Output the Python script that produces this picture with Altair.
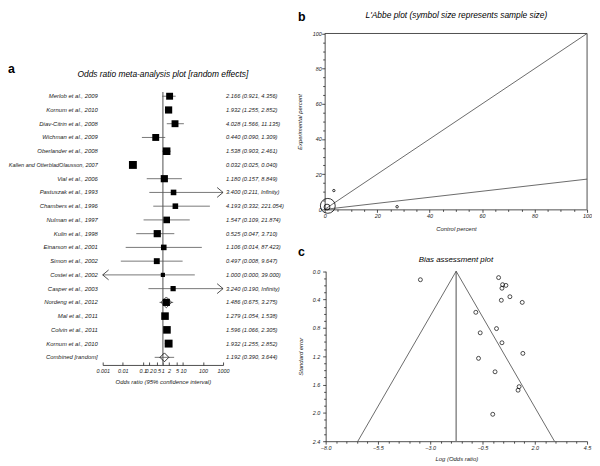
import math
import altair as alt
import pandas as pd

# ---------------- data: panel a (forest plot) ----------------
studies = ["Merlob et al., 2009", "Kornum et al., 2010", "Diav-Citrin et al., 2008",
           "Wichman et al., 2009", "Oberlander et al., 2008",
           "Kallen and OtterbladOlausson, 2007", "Vial et al., 2006",
           "Pastuszak et al., 1993", "Chambers et al., 1996", "Nulman et al., 1997",
           "Kulin et al., 1998", "Einarson et al., 2001", "Simon et al., 2002",
           "Costei et al., 2002", "Casper et al., 2003", "Nordeng et al., 2012",
           "Mal et al., 2011", "Colvin et al., 2011", "Kornum et al., 2010"]
odds_ratio = [2.166, 1.932, 4.028, 0.440, 1.538, 0.032, 1.180, 3.400, 4.193, 1.547,
              0.525, 1.106, 0.497, 1.000, 3.240, 1.486, 1.279, 1.596, 1.932]
ci_lower = [0.921, 1.255, 1.566, 0.090, 0.903, 0.025, 0.157, 0.211, 0.332, 0.109,
            0.047, 0.014, 0.008, 0.000, 0.190, 0.675, 1.054, 1.066, 1.255]
ci_upper = [4.356, 2.852, 11.135, 1.309, 2.461, 0.040, 8.849, math.inf, 221.054, 21.874,
            3.710, 87.423, 9.647, 39.000, math.inf, 3.275, 1.538, 2.305, 2.852]
study_weight = [4.9, 5.3, 4.9, 4.9, 5.9, 6.4, 5.3, 3.2, 3.2, 4.5,
                5.3, 3.2, 3.6, 1.8, 2.8, 5.3, 5.9, 5.9, 6.4]
combined_label = "Combined [random]"
combined_or, combined_lo, combined_hi = 1.192, 0.390, 3.644
or_ticks = [0.001, 0.01, 0.1, 0.2, 0.5, 1, 2, 5, 10, 100, 1000]

# ---------------- data: panel b (L'Abbe plot) ----------------
labbe_control = [1.2, 0.9, 3.5, 27.6]
labbe_experimental = [2.0, 1.3, 10.7, 1.5]
labbe_sample = [1600, 250, 40, 45]
labbe_line_x = [0, 100]
labbe_equal_y = [0, 100]
labbe_pooled_y = [0, 17.2]
labbe_ticks = [0, 20, 40, 60, 80, 100]

# ---------------- data: panel c (bias / funnel plot) ----------------
bias_log_or = [-3.47, 0.27, 0.46, 0.62, 0.43, 0.81, 0.40, 1.40, -0.82, 0.17,
               -0.61, 0.43, 1.43, -0.69, 0.10, 1.25, 1.20, -0.01]
bias_se = [0.12, 0.09, 0.19, 0.20, 0.24, 0.36, 0.41, 0.44, 0.58, 0.81,
           0.87, 1.01, 1.16, 1.23, 1.42, 1.63, 1.68, 2.02]
bias_centre = -1.76
funnel_x = [-6.46, -1.76, 2.94]
funnel_se = [2.4, 0.0, 2.4]
bias_x_ticks = [-8.0, -5.5, -3.0, -0.5, 2.0, 4.5]
bias_y_ticks = [0.0, 0.4, 0.8, 1.2, 1.6, 2.0, 2.4]

# ---------------- layout / style ----------------
W, H = 592, 458
FONT = "Liberation Sans"
INK = "#222222"


def fmt(v):
    return "Infinity" if math.isinf(v) else f"{v:.3f}"


def axis(orient, offset, values, fmt_str=None, label_expr=None, labels=True, ticks=True,
         tick=3, pad=1.0, domain=True, title=None, tx=None, ty=None):
    kw = dict(orient=orient, offset=offset, values=values, grid=False,
              labelFlush=False, labelOverlap=False, domain=domain, domainColor=INK,
              domainWidth=0.8, ticks=ticks, tickColor=INK, tickWidth=0.8, tickSize=tick,
              labels=labels, labelPadding=pad, labelFont=FONT, labelFontSize=5.5,
              labelFontStyle="italic", labelColor=INK)
    if fmt_str:
        kw["format"] = fmt_str
    if label_expr:
        kw["labelExpr"] = label_expr
    if title:
        kw.update(title=title, titleFont=FONT, titleFontSize=6, titleFontStyle="italic",
                  titleFontWeight="normal", titleColor=INK, titleAlign="center")
        if orient in ("left", "right"):
            kw.update(titleAngle=270, titleBaseline="bottom")
        else:
            kw.update(titleBaseline="top")
        if tx is not None:
            kw["titleX"] = tx
        if ty is not None:
            kw["titleY"] = ty
    else:
        kw["title"] = None
    return alt.Axis(**kw)


def axis_layer(channel, scale, ax, vals):
    base = alt.Chart(pd.DataFrame({"v": vals})).mark_rule(opacity=0)
    if channel == "x":
        return base.encode(x=alt.X("v:Q", scale=scale, axis=ax))
    return base.encode(y=alt.Y("v:Q", scale=scale, axis=ax))


def label(text, x, y, size, weight="normal", style="italic", align="center"):
    return alt.Chart(pd.DataFrame({"t": [text]})).mark_text(
        font=FONT, fontSize=size, fontWeight=weight, fontStyle=style, align=align,
        baseline="alphabetic", color="black").encode(
        x=alt.value(x), y=alt.value(y), text="t:N")


# ================= panel a =================
rows = []
for i, s in enumerate(studies):
    rows.append(dict(idx=i, study=s, odds=odds_ratio[i],
                     lo_c=max(ci_lower[i], 0.001), hi_c=min(ci_upper[i], 1000),
                     weight=study_weight[i],
                     txt=f"{odds_ratio[i]:.3f} ({fmt(ci_lower[i])}, {fmt(ci_upper[i])})",
                     kind="study", long=len(s) > 30))
n = len(studies)
rows.append(dict(idx=n, study=combined_label, odds=combined_or, lo_c=combined_lo,
                 hi_c=combined_hi, weight=0,
                 txt=f"{combined_or:.3f} ({fmt(combined_lo)}, {fmt(combined_hi)})",
                 kind="combined", long=False))
df_f = pd.DataFrame(rows)

xs_f = alt.Scale(type="log", domain=[0.001, 1000], range=[96, 218], nice=False)
ys_f = alt.Scale(domain=[0, n], range=[86.3, 351], nice=False, zero=False)
X_F = lambda f: alt.X(f, scale=xs_f, axis=None)
Y_F = alt.Y("idx:Q", scale=ys_f, axis=None)

ci_rules = alt.Chart(df_f).mark_rule(color="#555555", strokeWidth=0.8).encode(
    x=X_F("lo_c:Q"), x2="hi_c:Q", y=Y_F)

vline_f = alt.Chart(pd.DataFrame({"x": [1.0], "y0": [-0.3], "y1": [19.55]})).mark_rule(
    color="#808080", strokeWidth=1.4).encode(
    x=X_F("x:Q"), y=alt.Y("y0:Q", scale=ys_f, axis=None), y2="y1:Q")

squares = alt.Chart(df_f).transform_filter("datum.kind == 'study'").mark_square(
    color="black", opacity=1).encode(
    x=X_F("odds:Q"), y=Y_F,
    size=alt.Size("weight:Q", scale=alt.Scale(domain=[0, 10], range=[0, 100]), legend=None))

arrows_right = alt.Chart(df_f).transform_filter("datum.hi_c >= 1000").mark_point(
    shape="M-1.2,-1L0,0L-1.2,1", filled=False, size=100, color=INK, strokeWidth=0.8,
    opacity=1).encode(x=X_F("hi_c:Q"), y=Y_F)
arrows_left = alt.Chart(df_f).transform_filter("datum.lo_c <= 0.001").mark_point(
    shape="M1.2,-1L0,0L1.2,1", filled=False, size=100, color=INK, strokeWidth=0.8,
    opacity=1).encode(x=X_F("lo_c:Q"), y=Y_F)

comb_diamond = alt.Chart(df_f).transform_filter("datum.kind == 'combined'").mark_point(
    shape="diamond", filled=False, size=81, color="black", strokeWidth=0.8,
    opacity=1).encode(x=X_F("odds:Q"), y=Y_F)
nordeng_diamond = alt.Chart(df_f).transform_filter(
    "datum.study == 'Nordeng et al., 2012'").mark_point(
    shape="diamond", filled=False, size=120, color="black", strokeWidth=0.7,
    opacity=1).encode(x=X_F("odds:Q"), y=Y_F)

names = alt.Chart(df_f).transform_filter("!datum.long").mark_text(
    font=FONT, fontSize=6, fontStyle="italic", align="right", baseline="middle",
    color=INK).encode(x=alt.value(91), y=Y_F, text="study:N")
names_long = alt.Chart(df_f).transform_filter("datum.long").mark_text(
    font=FONT, fontSize=5.6, fontStyle="italic", align="right", baseline="middle",
    color=INK).encode(x=alt.value(91), y=Y_F, text="study:N")
values = alt.Chart(df_f).mark_text(
    font=FONT, fontSize=5.8, fontStyle="italic", align="left", baseline="middle",
    color=INK).encode(x=alt.value(221), y=Y_F, text="txt:N")

forest = alt.layer(vline_f, ci_rules, squares, arrows_right, arrows_left, comb_diamond,
                   nordeng_diamond, names, names_long, values)

forest_axis = axis_layer("x", xs_f, axis(
    "bottom", 358.7 - H, or_ticks, label_expr="'' + datum.value", ticks=False, pad=3.5,
    title="Odds ratio (95% confidence interval)", ty=14), or_ticks)
forest_ticks = axis_layer("x", xs_f, axis(
    "top", -358.7, or_ticks, labels=False, domain=False, tick=3), or_ticks)

# ================= panel b =================
xs_l = alt.Scale(domain=[0, 100], range=[321, 587], nice=False, zero=False)
ys_l = alt.Scale(domain=[0, 100], range=[201, 22.7], nice=False, zero=False)

df_l = pd.DataFrame({"ctrl": labbe_control, "exp": labbe_experimental, "n": labbe_sample})
circles_l = alt.Chart(df_l).mark_point(shape="circle", filled=False, color="black",
                                       strokeWidth=0.8, opacity=1).encode(
    x=alt.X("ctrl:Q", scale=xs_l, axis=None),
    y=alt.Y("exp:Q", scale=ys_l, axis=None),
    size=alt.Size("n:Q", scale=alt.Scale(domain=[0, 1600], range=[0, 227]), legend=None))

df_lines = pd.DataFrame({
    "x": labbe_line_x + labbe_line_x,
    "y": labbe_equal_y + labbe_pooled_y,
    "g": ["equal"] * 2 + ["pooled"] * 2})
lines_l = alt.Chart(df_lines).mark_line(color="#444444", strokeWidth=0.8).encode(
    x=alt.X("x:Q", scale=xs_l, axis=None), y=alt.Y("y:Q", scale=ys_l, axis=None),
    detail="g:N")

df_frame = pd.DataFrame({"x": [0, 100], "x2": [100, 100], "y": [100, 0], "y2": [100, 100]})
frame_l = alt.Chart(df_frame).mark_rule(color=INK, strokeWidth=0.8).encode(
    x=alt.X("x:Q", scale=xs_l, axis=None), x2="x2:Q",
    y=alt.Y("y:Q", scale=ys_l, axis=None), y2="y2:Q")

labbe = alt.layer(frame_l, lines_l, circles_l)

labbe_minor_vals = [v for v in range(0, 101, 5) if v % 20]
labbe_axes = [
    axis_layer("x", xs_l, axis("bottom", 201 - H, labbe_ticks, fmt_str="d", tick=3, pad=1,
                               title="Control percent", ty=16), labbe_ticks),
    axis_layer("y", ys_l, axis("left", -321, labbe_ticks, fmt_str="d", tick=3, pad=0.5,
                               title="Experimental percent", tx=-22, ty=111.9), labbe_ticks),
    axis_layer("x", xs_l, axis("bottom", 201 - H, labbe_minor_vals, labels=False,
                               domain=False, tick=2), labbe_minor_vals),
    axis_layer("y", ys_l, axis("left", -321, labbe_minor_vals, labels=False,
                               domain=False, tick=2), labbe_minor_vals),
]

# ================= panel c =================
xs_b = alt.Scale(domain=[-8, 4.5], range=[322, 587], nice=False, zero=False)
ys_b = alt.Scale(domain=[0, 2.4], range=[263.7, 436], nice=False, zero=False)

df_b = pd.DataFrame({"lor": bias_log_or, "se": bias_se})
points_b = alt.Chart(df_b).mark_point(shape="circle", filled=False, size=16, color="black",
                                      strokeWidth=0.7, opacity=1).encode(
    x=alt.X("lor:Q", scale=xs_b, axis=None), y=alt.Y("se:Q", scale=ys_b, axis=None))

funnel = alt.Chart(pd.DataFrame({"x": funnel_x, "se": funnel_se})).mark_line(
    color="#444444", strokeWidth=0.8).encode(
    x=alt.X("x:Q", scale=xs_b, axis=None), y=alt.Y("se:Q", scale=ys_b, axis=None))

vline_b = alt.Chart(pd.DataFrame({"x": [bias_centre], "y0": [0.0], "y1": [2.4]})).mark_rule(
    color="#808080", strokeWidth=1.4).encode(
    x=alt.X("x:Q", scale=xs_b, axis=None),
    y=alt.Y("y0:Q", scale=ys_b, axis=None), y2="y1:Q")

bias = alt.layer(vline_b, funnel, points_b)

bias_minor_x_vals = [round(-8 + 0.5 * i, 1) for i in range(26)]
bias_minor_x_vals = [v for v in bias_minor_x_vals if v not in bias_x_ticks]
bias_minor_y_vals = [round(0.1 * i, 1) for i in range(25)]
bias_minor_y_vals = [v for v in bias_minor_y_vals if v not in bias_y_ticks]
bias_axes = [
    axis_layer("x", xs_b, axis("bottom", 436 - H, bias_x_ticks, fmt_str=".1f", tick=3, pad=1,
                               title="Log (Odds ratio)", ty=15), bias_x_ticks),
    axis_layer("y", ys_b, axis("left", -322, bias_y_ticks, fmt_str=".1f", tick=3, pad=3,
                               title="Standard error", tx=-22, ty=349.9), bias_y_ticks),
    axis_layer("x", xs_b, axis("bottom", 436 - H, bias_minor_x_vals, labels=False,
                               domain=False, tick=2), bias_minor_x_vals),
    axis_layer("y", ys_b, axis("left", -322, bias_minor_y_vals, labels=False,
                               domain=False, tick=2), bias_minor_y_vals),
]

# ================= titles & panel letters =================
texts = [
    label("Odds ratio meta-analysis plot [random effects]", 157, 67, 8.5),
    label("L'Abbe plot (symbol size represents sample size)", 454.5, 7.5, 8.5),
    label("Bias assessment plot", 454, 254.5, 8),
    label("a", 0, 63, 12.5, weight="bold", style="normal", align="left"),
    label("b", 294, 10, 12.5, weight="bold", style="normal", align="left"),
    label("c", 294, 248.7, 12.5, weight="bold", style="normal", align="left"),
]

chart = alt.layer(
    forest, forest_axis, forest_ticks, labbe, *labbe_axes, bias, *bias_axes, *texts
).resolve_scale(
    x="independent", y="independent", size="independent"
).properties(
    width=W, height=H, padding=0, autosize=alt.AutoSizeParams(type="none"),
    background="white"
).configure_view(stroke=None)

chart.save("out.html", embed_options={"renderer": "svg", "actions": False})
